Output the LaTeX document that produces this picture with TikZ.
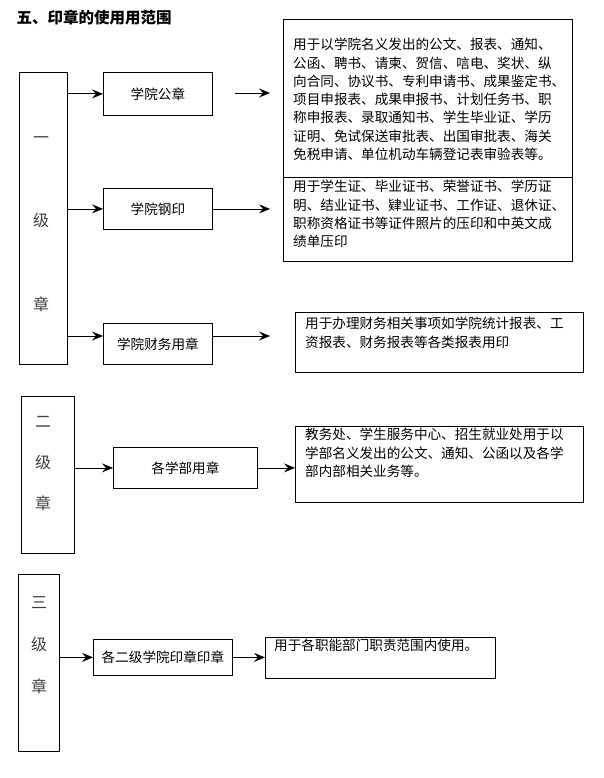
\documentclass[tikz,border=0pt]{standalone}
\usepackage{fontspec}
\setmainfont{Noto Sans CJK SC}
\usetikzlibrary{arrows.meta}

\begin{document}
\begin{tikzpicture}[x=1pt,y=-1pt,
  every node/.style={font=\fontsize{13.6}{18.3}\selectfont},
  box/.style={draw,line width=0.8pt,inner sep=0pt,anchor=north west},
  desc/.style={inner sep=0pt,anchor=north west,align=left},
  lvl/.style={align=center,text=black!75,inner sep=0pt},
  arr/.style={line width=0.8pt,-{Stealth[length=11pt,width=9pt,inset=4pt]}}]
  \useasboundingbox[fill=white] (0,0) rectangle (604,778);
  \node[anchor=west,font=\fontsize{15.5}{18}\selectfont\bfseries] (title) at (13,18) {五、印章的使用用范围};
  % first level
  \node[box,minimum width=48,minimum height=292] (lvlone) at (19,72) {};
  \node[lvl,font=\fontsize{16}{83.5}\selectfont] at (41,224) {一\\级\\章};
  \node[box,minimum width=109,minimum height=43] (gongzhang) at (103,72) {学院公章};
  \node[box,minimum width=109,minimum height=41] (gangyin) at (103,188) {学院钢印};
  \node[box,minimum width=109,minimum height=41] (caiwu) at (103,323) {学院财务用章};
  \node[box,minimum width=289,minimum height=158] (descgz) at (283,19) {};
  \node[box,minimum width=289,minimum height=84] (descgy) at (283,177) {};
  \node[box,minimum width=288,minimum height=60] (desccw) at (295,312) {};
  \node[desc] at ([shift={(10,19)}]descgz.north west) {用于以学院名义发出的公文、报表、通知、\\公函、聘书、请柬、贺信、唁电、奖状、纵\\向合同、协议书、专利申请书、成果鉴定书、\\项目申报表、成果申报书、计划任务书、职\\称申报表、录取通知书、学生毕业证、学历\\证明、免试保送审批表、出国审批表、海关\\免税申请、单位机动车辆登记表审验表等。};
  \node[desc] at ([shift={(10,3)}]descgy.north west) {用于学生证、毕业证书、荣誉证书、学历证\\明、结业证书、肄业证书、工作证、退休证、\\职称资格证书等证件照片的压印和中英文成\\绩单压印};
  \node[desc] at ([shift={(10,5)}]desccw.north west) {用于办理财务相关事项如学院统计报表、工\\资报表、财务报表等各类报表用印};
  \coordinate (gzs) at (235,93);
  \coordinate (gze) at (270,93);
  \coordinate (gye) at (270,208);
  \coordinate (cwe) at (270,336);
  \draw[arr] (lvlone.east |- gongzhang) -- (gongzhang.west);
  \draw[arr] (lvlone.east |- gangyin) -- (gangyin.west);
  \draw[arr] (lvlone.east |- cwe) -- (caiwu.west |- cwe);
  \draw[arr] (gzs) -- (gze);
  \draw[arr] (gangyin.east) -- (gangyin.east -| gye);
  \draw[arr] (caiwu.east |- cwe) -- (cwe);
  % second level
  \node[box,minimum width=53,minimum height=157] (lvltwo) at (21,396) {};
  \node[lvl,font=\fontsize{16}{41}\selectfont] at (43,464) {二\\级\\章};
  \node[box,minimum width=144,minimum height=41] (xuebu) at (113,447) {各学部用章};
  \node[box,minimum width=288,minimum height=76] (descxb) at (295,426) {};
  \node[desc] at ([shift={(10,2)}]descxb.north west) {教务处、学生服务中心、招生就业处用于以\\学部名义发出的公文、通知、公函以及各学\\部内部相关业务等。};
  \draw[arr] (lvltwo.east |- xuebu) -- (xuebu.west);
  \draw[arr] (xuebu.east) -- (xuebu.east -| descxb.west);
  % third level
  \node[box,minimum width=41,minimum height=177] (lvlthree) at (18,574) {};
  \node[lvl,font=\fontsize{16}{42}\selectfont] at (39,645) {三\\级\\章};
  \node[box,minimum width=139,minimum height=36] (erji) at (93,639) {各二级学院印章印章};
  \node[box,minimum width=230,minimum height=41] (descej) at (265,637) {};
  \node[desc] at ([shift={(9,2)}]descej.north west) {用于各职能部门职责范围内使用。};
  \draw[arr] (lvlthree.east |- erji) -- (erji.west);
  \draw[arr] (erji.east) -- (erji.east -| descej.west);
\end{tikzpicture}
\end{document}
